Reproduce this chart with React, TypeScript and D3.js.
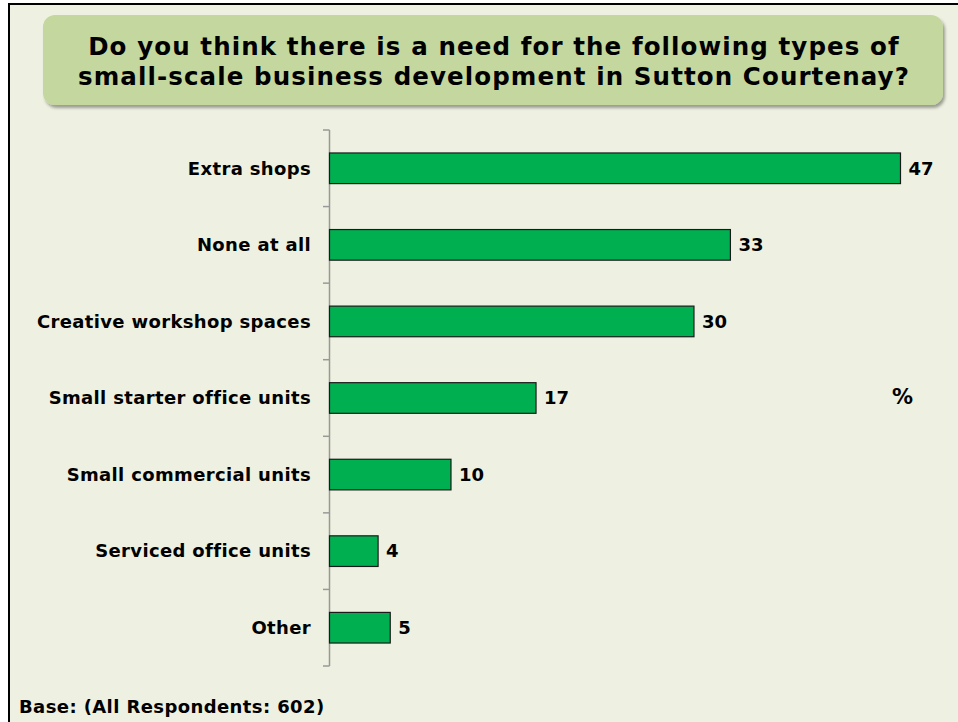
import React from "react";
import * as d3 from "d3";

const categories = [
  "Extra shops",
  "None at all",
  "Creative workshop spaces",
  "Small starter office units",
  "Small commercial units",
  "Serviced office units",
  "Other",
];
const values = [47, 33, 30, 17, 10, 4, 5];
const titleLines = [
  "Do you think there is a need for the following types of",
  "small-scale business development in Sutton Courtenay?",
];
const baseText = "Base: (All Respondents: 602)";
const unitLabel = "%";

const W = 958;
const H = 722;
const FONT = "'DejaVu Sans', Verdana, sans-serif";

export default function App() {
  const x = d3.scaleLinear().domain([0, 47]).range([329.5, 900.5]);
  const y = d3
    .scaleBand<string>()
    .domain(categories)
    .range([130, 666])
    .paddingInner(0.6)
    .paddingOuter(0.3);
  const ticks = d3.range(categories.length + 1).map((i) => 130 + i * ((666 - 130) / categories.length));

  return (
    <svg
      width={W}
      height={H}
      style={{ position: "absolute", left: 0, top: 0, display: "block" }}
      fontFamily={FONT}
    >
      <defs>
        <filter id="sh" x="-5%" y="-20%" width="110%" height="150%">
          <feDropShadow dx="2" dy="3" stdDeviation="1.5" floodColor="#000" floodOpacity="0.35" />
        </filter>
      </defs>
      <rect x={0} y={0} width={W} height={H} fill="#ffffff" />
      <rect x={9} y={4} width={W + 20} height={H + 20} fill="#EEF1E1" stroke="#000" strokeWidth={2} />
      <rect x={43} y={15} width={900} height={90} rx={12} ry={12} fill="#C4D79F" filter="url(#sh)" />
      {titleLines.map((t, i) => (
        <text
          key={i}
          x={494}
          y={55 + i * 30}
          textAnchor="middle"
          fontSize={24.5}
          fontWeight="bold"
          letterSpacing={1.1}
          fill="#000"
        >
          {t}
        </text>
      ))}
      <line x1={329.5} x2={329.5} y1={130} y2={666} stroke="#999" strokeWidth={1.5} />
      {ticks.map((t, i) => (
        <line key={i} x1={323} x2={329.5} y1={t} y2={t} stroke="#999" strokeWidth={1.5} />
      ))}
      {categories.map((c, i) => {
        const yy = y(c)!;
        const bw = y.bandwidth();
        return (
          <g key={c}>
            <rect
              x={x(0)}
              y={yy}
              width={x(values[i]) - x(0)}
              height={bw}
              fill="#00AF50"
              stroke="#1a1a1a"
              strokeWidth={1.2}
            />
            <text
              x={311}
              y={yy + bw / 2}
              dy="0.35em"
              textAnchor="end"
              fontSize={18}
              fontWeight="bold"
              letterSpacing={0.35}
              fill="#000"
            >
              {c}
            </text>
            <text
              x={x(values[i]) + 8}
              y={yy + bw / 2}
              dy="0.35em"
              fontSize={18}
              fontWeight="bold"
              fill="#000"
            >
              {values[i]}
            </text>
          </g>
        );
      })}
      <text x={892} y={397} dy="0.35em" fontSize={21} fontWeight="bold" fill="#000">
        {unitLabel}
      </text>
      <text x={19} y={713} fontSize={18} fontWeight="bold" letterSpacing={0.4} fill="#000">
        {baseText}
      </text>
    </svg>
  );
}
